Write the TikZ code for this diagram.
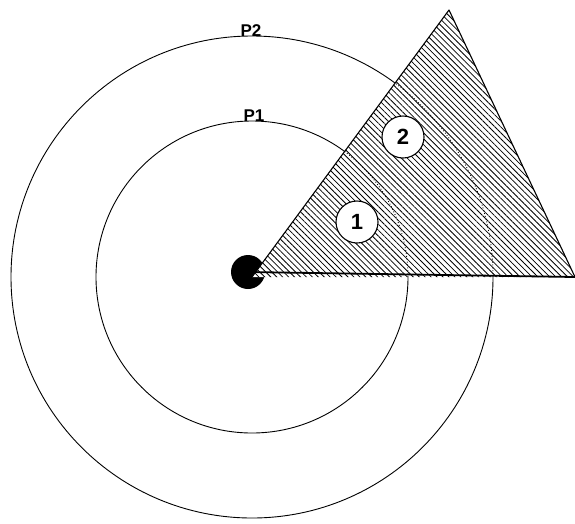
\documentclass[tikz,border=0pt]{standalone}
\usepackage{fontspec}
\setsansfont{Liberation Sans}
\usetikzlibrary{patterns.meta}
\tikzset{
  ring/.style={line width=0.9pt},
  zonelabel/.style={font=\sffamily\bfseries\fontsize{17}{17}\selectfont, inner sep=1pt},
  slot/.style={circle, draw, line width=1.1pt, fill=white, minimum size=42pt, inner sep=0pt,
    font=\sffamily\bfseries\fontsize{22}{22}\selectfont},
}
\begin{document}
\begin{tikzpicture}[x=1pt,y=-1pt]
  \useasboundingbox (0,0) rectangle (575,523);
  \coordinate (c) at (252,277);
  \coordinate (apex) at (449,10);
  \coordinate (tip) at (575,277);
  % rings
  \draw[ring] (c) circle (156pt);
  \draw[ring] (c) circle (241pt);
  \node[circle, fill=black, minimum size=34pt, inner sep=0pt] (hub) at (248,272) {};
  % hatched sector
  \fill[white] (c) -- (apex) -- (tip) -- cycle;
  \fill[pattern={Lines[angle=-45,distance=4.2pt,line width=0.8pt]}] (c) -- (apex) -- (tip) -- cycle;
  \begin{scope}
    \clip (c) -- (apex) -- (tip) -- cycle;
    \draw[ring, dotted] (c) circle (156pt) (c) circle (241pt);
  \end{scope}
  \draw[line width=1.1pt, line join=round] (c) -- (apex) -- (tip);
  \draw[line width=1.8pt] (hub.center) -- (tip);
  % labels
  \node[zonelabel, anchor=south] (p2) at (251,38) {P2};
  \node[zonelabel, anchor=south] (p1) at (254,123) {P1};
  \node[slot] (s1) at (357,222) {1};
  \node[slot] (s2) at (403,137) {2};
\end{tikzpicture}
\end{document}
